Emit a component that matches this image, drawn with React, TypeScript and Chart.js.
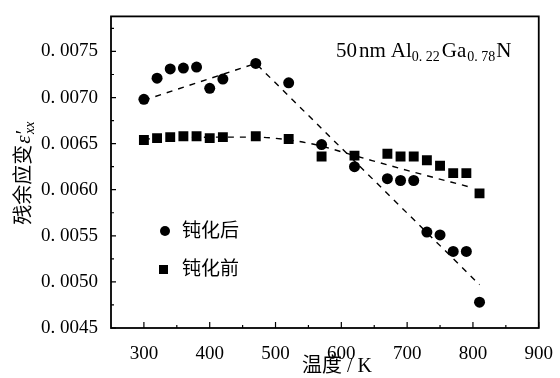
import React, { useEffect, useRef } from 'react';
import { Chart, registerables } from 'chart.js';
Chart.register(...registerables);

// Temperatures (K)
const tempAfter = [300, 320, 340, 360, 380, 400, 420, 470, 520, 570, 620, 670, 690, 710, 730, 750, 770, 790, 810];
const strainAfter = [0.00698, 0.00721, 0.00731, 0.00732, 0.00733, 0.0071, 0.0072, 0.00737, 0.00716, 0.00649, 0.00625, 0.00612, 0.0061, 0.0061, 0.00554, 0.00551, 0.00533, 0.00533, 0.00478];
const tempBefore = [300, 320, 340, 360, 380, 400, 420, 470, 520, 570, 620, 670, 690, 710, 730, 750, 770, 790, 810];
const strainBefore = [0.00654, 0.00656, 0.00657, 0.00658, 0.00658, 0.00656, 0.00657, 0.00658, 0.00655, 0.00636, 0.00637, 0.00639, 0.00636, 0.00636, 0.00632, 0.00626, 0.00618, 0.00618, 0.00596];
// Dashed fit lines
const fitAfterT = [300, 470, 810];
const fitAfterS = [0.00697, 0.00737, 0.00497];
const fitBeforeT = [300, 400, 470, 520, 560, 620, 700, 800];
const fitBeforeS = [0.00655, 0.00657, 0.00657, 0.00654, 0.00649, 0.00637, 0.00621, 0.00602];

const seriesLabels = ['钝化后', '钝化前'];
const xTitle = '温度 / K';
const yTitleMain = '残余应变';
const xMinorTicks = [350, 450, 550, 650, 750, 850];
const yMinorTicks = [0.00475, 0.00525, 0.00575, 0.00625, 0.00675, 0.00725, 0.00775];

const FONT = "'Liberation Serif', 'Noto Sans CJK SC', serif";

const toPts = (xs: number[], ys: number[]) => xs.map((x, i) => ({ x, y: ys[i] }));

const decorPlugin = {
  id: 'decor',
  afterDraw(chart: any) {
    const { ctx, chartArea } = chart;
    const { left, right, top, bottom } = chartArea;
    const xs = chart.scales.x;
    const ys = chart.scales.y;
    ctx.save();
    ctx.strokeStyle = '#000';
    ctx.fillStyle = '#000';
    // frame
    ctx.lineWidth = 1.8;
    ctx.strokeRect(left, top, right - left, bottom - top);
    // ticks inside
    ctx.lineWidth = 1.2;
    ctx.beginPath();
    xs.ticks.forEach((t: any) => {
      const px = xs.getPixelForValue(t.value);
      ctx.moveTo(px, bottom);
      ctx.lineTo(px, bottom - 6);
    });
    xMinorTicks.forEach((v) => {
      const px = xs.getPixelForValue(v);
      ctx.moveTo(px, bottom);
      ctx.lineTo(px, bottom - 3);
    });
    ys.ticks.forEach((t: any) => {
      const py = ys.getPixelForValue(t.value);
      ctx.moveTo(left, py);
      ctx.lineTo(left + 5, py);
    });
    yMinorTicks.forEach((v) => {
      const py = ys.getPixelForValue(v);
      ctx.moveTo(left, py);
      ctx.lineTo(left + 3, py);
    });
    ctx.stroke();

    // annotation 50nm Al0.22Ga0.78N
    const segs: [string, boolean, number][] = [
      ['50', false, 2],
      ['nm', false, 5],
      ['Al', false, 0],
      ['0. 22', true, 2],
      ['Ga', false, 1],
      ['0. 78', true, 1],
      ['N', false, 0],
    ];
    let ax = 336;
    const ay = 57;
    ctx.textBaseline = 'alphabetic';
    ctx.textAlign = 'left';
    segs.forEach(([s, sub, gap]) => {
      ctx.font = sub ? `14px ${FONT}` : `21px ${FONT}`;
      ctx.fillText(s, ax, sub ? ay + 4 : ay);
      ax += ctx.measureText(s).width + gap;
    });

    // legend
    ctx.beginPath();
    ctx.arc(165, 231, 5, 0, Math.PI * 2);
    ctx.fill();
    ctx.fillRect(159, 265, 9, 9);
    ctx.font = `19px ${FONT}`;
    ctx.textBaseline = 'middle';
    ctx.fillText(seriesLabels[0], 182, 232);
    ctx.fillText(seriesLabels[1], 182, 270);

    // x title
    ctx.textAlign = 'center';
    ctx.font = `20px ${FONT}`;
    ctx.fillText(xTitle, 337, 367);

    // y title (rotated)
    ctx.translate(22, (top + bottom) / 2);
    ctx.rotate(-Math.PI / 2);
    ctx.textAlign = 'left';
    ctx.textBaseline = 'alphabetic';
    ctx.font = `20px ${FONT}`;
    const w1 = ctx.measureText(yTitleMain).width;
    ctx.font = `italic 21px ${FONT}`;
    const w2 = ctx.measureText('ε′').width;
    ctx.font = `italic 14px ${FONT}`;
    const w3 = ctx.measureText('xx').width;
    let sx = -(w1 + w2 + w3) / 2;
    const base = 8;
    ctx.font = `20px ${FONT}`;
    ctx.fillText(yTitleMain, sx, base);
    sx += w1 + 1;
    ctx.font = `italic 21px ${FONT}`;
    ctx.fillText('ε′', sx, base);
    sx += w2 - 3;
    ctx.font = `italic 14px ${FONT}`;
    ctx.fillText('xx', sx, base + 4);
    ctx.restore();
  },
};

export default function App() {
  const ref = useRef<HTMLCanvasElement>(null);
  useEffect(() => {
    document.body.style.margin = '0';
    const chart = new Chart(ref.current!, {
      type: 'scatter',
      data: {
        datasets: [
          {
            label: seriesLabels[0],
            data: toPts(tempAfter, strainAfter),
            pointStyle: 'circle',
            pointRadius: 5.5,
            backgroundColor: '#000',
            borderColor: '#000',
            borderWidth: 0,
            order: 1,
          },
          {
            label: seriesLabels[1],
            data: toPts(tempBefore, strainBefore),
            pointStyle: 'rect',
            pointRadius: 7,
            backgroundColor: '#000',
            borderColor: '#000',
            borderWidth: 0,
            order: 1,
          },
          {
            label: 'fitAfter',
            data: toPts(fitAfterT, fitAfterS),
            showLine: true,
            pointRadius: 0,
            borderColor: '#000',
            borderWidth: 1.4,
            borderDash: [6, 6],
            order: 2,
          },
          {
            label: 'fitBefore',
            data: toPts(fitBeforeT, fitBeforeS),
            showLine: true,
            pointRadius: 0,
            borderColor: '#000',
            borderWidth: 1.4,
            borderDash: [6, 6],
            cubicInterpolationMode: 'monotone',
            order: 2,
          },
        ],
      },
      options: {
        animation: false,
        responsive: false,
        events: [],
        layout: { padding: { top: 12, right: 17, left: 0, bottom: 0 } },
        plugins: { legend: { display: false }, tooltip: { enabled: false } },
        scales: {
          x: {
            type: 'linear',
            min: 250,
            max: 900,
            grid: { display: false },
            border: { display: false },
            ticks: {
              stepSize: 100,
              includeBounds: false,
              color: '#000',
              padding: 7,
              font: { family: FONT, size: 19 },
              callback: (v: any) => String(v),
            },
            afterFit: (s: any) => {
              s.height = 50;
            },
          },
          y: {
            type: 'linear',
            min: 0.0045,
            max: 0.00788,
            grid: { display: false },
            border: { display: false },
            ticks: {
              stepSize: 0.0005,
              includeBounds: false,
              color: '#000',
              padding: 5,
              font: { family: FONT, size: 19 },
              callback: (v: any) => Number(v).toFixed(4).replace('.', '. '),
            },
            afterFit: (s: any) => {
              s.width = 111;
            },
          },
        },
      },
      plugins: [decorPlugin],
    } as any);
    return () => chart.destroy();
  }, []);
  return (
    <div style={{ width: 560, height: 378, background: '#fff' }}>
      <canvas ref={ref} width={560} height={378} />
    </div>
  );
}
